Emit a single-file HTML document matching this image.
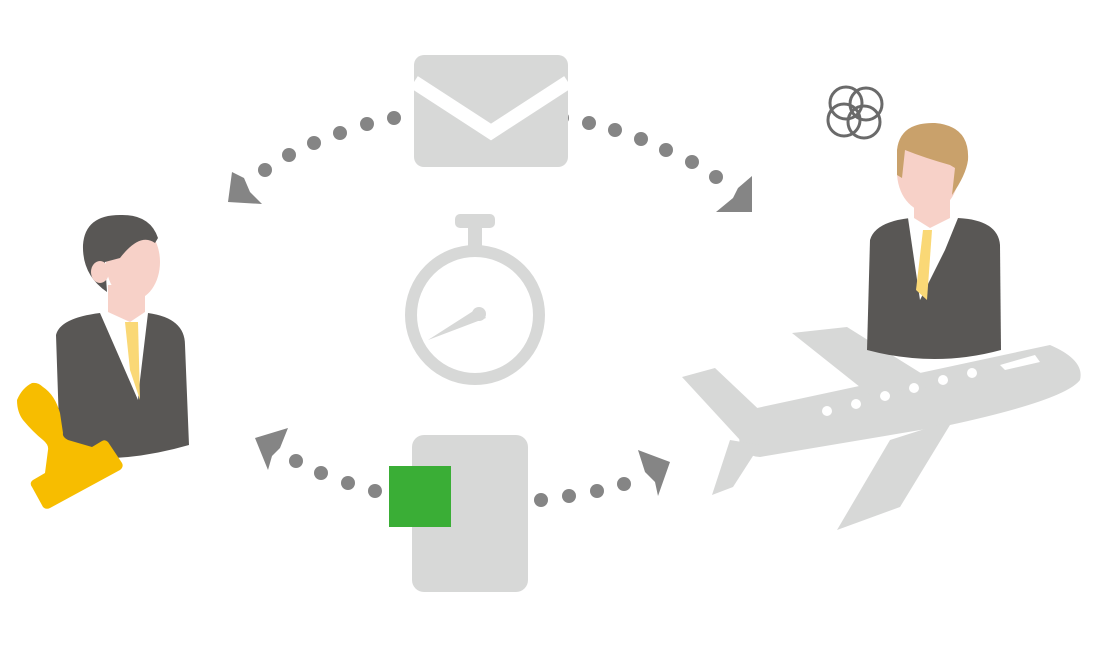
<!DOCTYPE html>
<html><head><style>html,body{margin:0;padding:0;background:#fff}svg{display:block}</style></head>
<body>
<svg width="1100" height="650" viewBox="0 0 1100 650" xmlns="http://www.w3.org/2000/svg">
<g fill="#858585">
<circle cx="394" cy="118" r="7"/><circle cx="367" cy="124" r="7"/><circle cx="340" cy="133" r="7"/><circle cx="314" cy="143" r="7"/><circle cx="289" cy="155" r="7"/><circle cx="265" cy="170" r="7"/>
<polygon points="228,202 262,204 250,192 244,178 232,172"/>
<circle cx="562" cy="118" r="7"/><circle cx="589" cy="123" r="7"/><circle cx="615" cy="130" r="7"/><circle cx="641" cy="139" r="7"/><circle cx="666" cy="150" r="7"/><circle cx="692" cy="162" r="7"/><circle cx="716" cy="177" r="7"/>
<polygon points="716,212 752,212 752,176 738,188 733,198"/>
<circle cx="375" cy="491" r="7"/><circle cx="348" cy="483" r="7"/><circle cx="321" cy="473" r="7"/><circle cx="296" cy="461" r="7"/>
<polygon points="288,428 255,438 268,470 272,456 280,448"/>
<circle cx="541" cy="500" r="7"/><circle cx="569" cy="496" r="7"/><circle cx="597" cy="491" r="7"/><circle cx="624" cy="484" r="7"/>
<polygon points="638,450 670,462 658,496 655,482 645,472"/>
</g>
<rect x="414" y="55" width="154" height="112" rx="10" fill="#d7d8d7"/>
<polyline points="414,82 491,132 568,82" fill="none" stroke="#fff" stroke-width="14"/>
<rect x="455" y="214" width="40" height="14" rx="5" fill="#d7d8d7"/>
<rect x="468" y="226" width="14" height="26" fill="#d7d8d7"/>
<circle cx="475" cy="315" r="64" fill="none" stroke="#d7d8d7" stroke-width="12"/>
<polygon points="428,340 478,308 486,318" fill="#d7d8d7"/><circle cx="479" cy="314" r="7" fill="#d7d8d7"/>
<rect x="412" y="435" width="116" height="157" rx="12" fill="#d7d8d7"/>
<rect x="389" y="466" width="62" height="61" fill="#3aae36"/>
<g fill="#d7d8d7">
<path d="M757,408 L1050,345 Q1085,360 1080,380 Q1065,400 950,425 L760,457 Q735,455 740,430 Z"/>
<polygon points="682,377 715,368 770,420 740,440"/>
<polygon points="730,440 712,495 733,487 760,445"/>
<polygon points="792,333 847,327 940,385 870,395"/>
<polygon points="890,440 837,530 900,507 953,420"/>
</g>
<g fill="#fff"><circle cx="827" cy="411" r="5"/><circle cx="856" cy="404" r="5"/><circle cx="885" cy="396" r="5"/><circle cx="914" cy="388" r="5"/><circle cx="943" cy="380" r="5"/><circle cx="972" cy="373" r="5"/>
<path d="M1000,365 L1035,355 L1040,362 L1005,370 Z"/></g>
<path d="M870,240 Q875,222 910,218 L958,218 Q998,220 1000,245 L1001,350 Q935,368 867,350 Z" fill="#595755"/>
<polygon points="908,218 958,218 945,250 920,300" fill="#fff"/>
<polygon points="923,230 932,230 927,300 916,290" fill="#fad876"/>
<path d="M914,195 L914,218 L930,228 L950,218 L950,195 Z" fill="#f7d1c8"/>
<ellipse cx="928" cy="172" rx="31" ry="40" fill="#f7d1c8"/>
<path d="M897,175 L897,150 Q900,122 935,123 Q970,126 968,160 Q966,175 952,195 L955,168 L950,165 Q925,158 905,150 L902,178 Z" fill="#c9a16b"/>
<g fill="none" stroke="#6a6a6a" stroke-width="3"><circle cx="846" cy="103" r="16"/><circle cx="866" cy="104" r="16"/><circle cx="844" cy="120" r="16"/><circle cx="864" cy="122" r="16"/></g>
<path d="M56,335 Q60,318 100,313 L148,313 Q185,318 185,345 L189,445 Q120,465 60,455 Z" fill="#595755"/>
<polygon points="100,313 148,313 140,380 138,400" fill="#fff"/>
<polygon points="125,322 138,322 140,400 130,370" fill="#fad876"/>
<path d="M108,285 L108,312 L130,322 L145,312 L145,285 Z" fill="#f7d1c8"/>
<ellipse cx="133" cy="262" rx="27" ry="38" fill="#f7d1c8"/>
<path d="M107,292 Q82,275 83,245 Q85,215 120,215 Q150,214 158,238 L155,243 Q140,232 120,258 L105,262 Z" fill="#595755"/>
<ellipse cx="100" cy="272" rx="9" ry="11" fill="#f7d1c8"/>
<path d="M32,383 Q22,388 17,400 Q17,412 23,420 Q33,432 43,440 Q49,445 48,450 L45,473 L33,480 Q29,483 32,487 L43,507 Q46,510 50,508 L120,470 Q124,467 122,463 L108,442 Q105,439 102,441 L92,447 L68,440 Q62,437 63,433 L60,413 Q55,395 43,387 Q38,382 32,383 Z" fill="#f7bd00"/>
</svg>
</body></html>
